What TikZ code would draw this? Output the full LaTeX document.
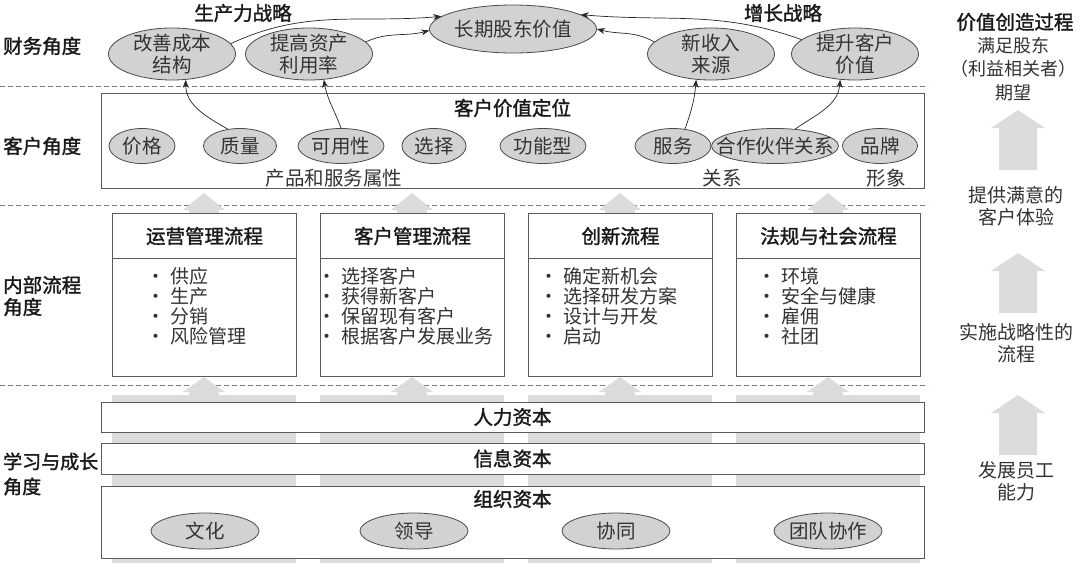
\documentclass[tikz,border=0pt]{standalone}
\usepackage{fontspec}
\setmainfont{Noto Sans CJK SC}
\newfontfamily\semib{Noto Sans CJK SC}[FakeBold=1.6]
\usetikzlibrary{arrows.meta,shapes.geometric}
\definecolor{efill}{HTML}{D2D2D2}
\definecolor{eline}{HTML}{4A4A4A}
\definecolor{bline}{HTML}{5A5A5A}
\definecolor{tcol}{HTML}{333333}
\definecolor{hcol}{HTML}{1A1A1A}
\definecolor{barc}{HTML}{DCDCDC}
\definecolor{dcol}{HTML}{7A7A7A}
\newcommand{\bul}{\makebox[24pt][l]{·}}
\begin{document}
\begin{tikzpicture}[x=1pt,y=1pt,
 body/.style={text=tcol,font=\fontsize{19.5}{22}\selectfont,inner sep=0pt},
 head/.style={text=hcol,font=\semib\fontsize{19.5}{22}\selectfont,inner sep=0pt},
 etx/.style={text=tcol,font=\fontsize{19.5}{22}\selectfont,inner sep=0pt,align=center},
 ell/.style={ellipse,draw=eline,fill=efill,line width=.8pt,inner sep=0pt},
 bx/.style={rectangle,draw=bline,fill=white,line width=1pt,inner sep=0pt,anchor=north west},
 dline/.style={draw=dcol,line width=.8pt,dash pattern=on 5pt off 3pt},
 conn/.style={draw=black!85,line width=.7pt,-{Stealth[length=8pt,width=6pt]}},
 blist/.style={text=tcol,font=\fontsize{19}{20}\selectfont,inner sep=0pt,align=left,anchor=north west},
]
\useasboundingbox (0,0) rectangle (1080,-568);

% dashed separators
\draw[dline] (0,-86) -- (928,-86);
\draw[dline] (0,-205) -- (928,-205);
\draw[dline] (0,-385) -- (928,-385);

% gray bars and arrow heads
\foreach \l/\r in {112/296,320/504,528/712,736/920}{
  \fill[barc] (\l,-395) rectangle (\r,-563);
}
\foreach \c in {204,412,620,828}{
  \fill[barc] (\c-15,-396) -- (\c-15,-392) -- (\c-21,-392) -- (\c,-377) -- (\c+21,-392) -- (\c+15,-392) -- (\c+15,-396) -- cycle;
  \fill[barc] (\c-15,-214) -- (\c-15,-210) -- (\c-21,-210) -- (\c,-193) -- (\c+21,-210) -- (\c+15,-210) -- (\c+15,-214) -- cycle;
}
\foreach \t in {110,253,395}{
  \fill[barc] (999,-\t-60) -- (999,-\t-18) -- (991,-\t-18) -- (1018,-\t) -- (1045,-\t-18) -- (1037,-\t-18) -- (1037,-\t-60) -- cycle;
}

% titles
\node[head] (prodT) at (243,-13) {生产力战略};
\node[head] (growT) at (783,-13) {增长战略};
\node[head] (vcT) at (1015,-22) {价值创造过程};

% left labels
\node[head,anchor=west] (lf) at (3,-46) {财务角度};
\node[head,anchor=west] (lc) at (3,-146) {客户角度};
\node[head,anchor=west,align=left] (li) at (3,-296) {内部流程\\角度};
\node[head,anchor=west,align=left,font=\semib\fontsize{19}{25}\selectfont] (ll) at (3,-474) {学习与成长\\角度};

% right column
\node[body,align=center,font=\fontsize{18}{23.5}\selectfont] (r1) at (1013,-69) {满足股东\\（利益相关者）\\期望};
\node[body,align=center,font=\fontsize{19}{22}\selectfont] (r2) at (1016,-206) {提供满意的\\客户体验};
\node[body,align=center,font=\fontsize{19}{22}\selectfont] (r3) at (1016,-343) {实施战略性的\\流程};
\node[body,align=center,font=\fontsize{19}{22}\selectfont] (r4) at (1016,-481) {发展员工\\能力};

% financial row
\node[ell,minimum width=127,minimum height=52,label={[etx]center:改善成本\\结构}] (gs) at (172,-54) {};
\node[ell,minimum width=127,minimum height=52,label={[etx]center:提高资产\\利用率}] (tg) at (309,-54) {};
\node[ell,minimum width=167,minimum height=48,label={[etx]center:长期股东价值}] (cq) at (513,-29) {};
\node[ell,minimum width=127,minimum height=52,label={[etx]center:新收入\\来源}] (xs) at (711,-54) {};
\node[ell,minimum width=127,minimum height=52,label={[etx]center:提升客户\\价值}] (ts) at (855,-54) {};

% customer box
\node[bx,minimum width=823,minimum height=95] (cbox) at (101,-93) {};
\node[head] (cT) at (512.5,-108) {客户价值定位};
\node[ell,minimum width=66,minimum height=35,label={[etx]center:价格}] (e1) at (142,-146) {};
\node[ell,minimum width=73,minimum height=35,label={[etx]center:质量}] (e2) at (240,-146) {};
\node[ell,minimum width=86,minimum height=35,label={[etx]center:可用性}] (e3) at (341,-146) {};
\node[ell,minimum width=64,minimum height=35,label={[etx]center:选择}] (e4) at (434,-146) {};
\node[ell,minimum width=86,minimum height=35,label={[etx]center:功能型}] (e5) at (543,-146) {};
\node[ell,minimum width=76,minimum height=35,label={[etx]center:服务}] (e6) at (673,-146) {};
\node[ell,minimum width=127,minimum height=35,label={[etx]center:合作伙伴关系}] (e7) at (775,-146) {};
\node[ell,minimum width=75,minimum height=35,label={[etx]center:品牌}] (e8) at (880,-146) {};
\node[body] (s1) at (334,-178) {产品和服务属性};
\node[body] (s2) at (722,-178) {关系};
\node[body] (s3) at (886,-178) {形象};

% connectors
\draw[conn] (gs.10) to[out=25,in=185] (cq.170);
\draw[conn] (tg.12) to[out=25,in=195] (cq.181);
\draw[conn] (xs.168) to[out=150,in=-15] (cq.0);
\draw[conn] (ts.165) to[out=160,in=-5] (cq.12);
\draw[conn] (e2.126) to[out=150,in=-90] (gs.298);
\draw[conn] (e3.north) to[out=110,in=-80] (tg.300);
\draw[conn] (e6.55) to[out=70,in=-95] (xs.240);
\draw[conn] (e7.40) to[out=35,in=-95] (ts.240);

% process boxes
\node[bx,minimum width=184,minimum height=45] (p1h) at (112,-213) {};
\node[bx,minimum width=184,minimum height=118] (p1b) at (112,-258) {};
\node[bx,minimum width=184,minimum height=45] (p2h) at (320,-213) {};
\node[bx,minimum width=184,minimum height=118] (p2b) at (320,-258) {};
\node[bx,minimum width=184,minimum height=45] (p3h) at (528,-213) {};
\node[bx,minimum width=184,minimum height=118] (p3b) at (528,-258) {};
\node[bx,minimum width=184,minimum height=45] (p4h) at (736,-213) {};
\node[bx,minimum width=184,minimum height=118] (p4b) at (736,-258) {};
\node[head] (p1t) at (p1h.center) {运营管理流程};
\node[head] (p2t) at (p2h.center) {客户管理流程};
\node[head] (p3t) at (p3h.center) {创新流程};
\node[head] (p4t) at (p4h.center) {法规与社会流程};
\node[blist] (b1) at (146,-267) {\bul 供应\\\bul 生产\\\bul 分销\\\bul 风险管理};
\node[blist] (b2) at (317,-267) {\bul 选择客户\\\bul 获得新客户\\\bul 保留现有客户\\\bul 根据客户发展业务};
\node[blist] (b3) at (539,-267) {\bul 确定新机会\\\bul 选择研发方案\\\bul 设计与开发\\\bul 启动};
\node[blist] (b4) at (757,-267) {\bul 环境\\\bul 安全与健康\\\bul 雇佣\\\bul 社团};

% learning rows
\node[bx,minimum width=823,minimum height=30] (l1) at (101,-402) {};
\node[bx,minimum width=823,minimum height=31] (l2) at (101,-443) {};
\node[bx,minimum width=823,minimum height=72] (l3) at (101,-486) {};
\node[head] (l1t) at (512.5,-417) {人力资本};
\node[head] (l2t) at (512.5,-458.5) {信息资本};
\node[head] (l3t) at (512.5,-499) {组织资本};
\node[ell,minimum width=108,minimum height=36,label={[etx]center:文化}] (o1) at (205,-531) {};
\node[ell,minimum width=108,minimum height=36,label={[etx]center:领导}] (o2) at (414,-531) {};
\node[ell,minimum width=108,minimum height=36,label={[etx]center:协同}] (o3) at (616,-531) {};
\node[ell,minimum width=108,minimum height=36,label={[etx]center:团队协作}] (o4) at (828,-531) {};
\end{tikzpicture}
\end{document}
